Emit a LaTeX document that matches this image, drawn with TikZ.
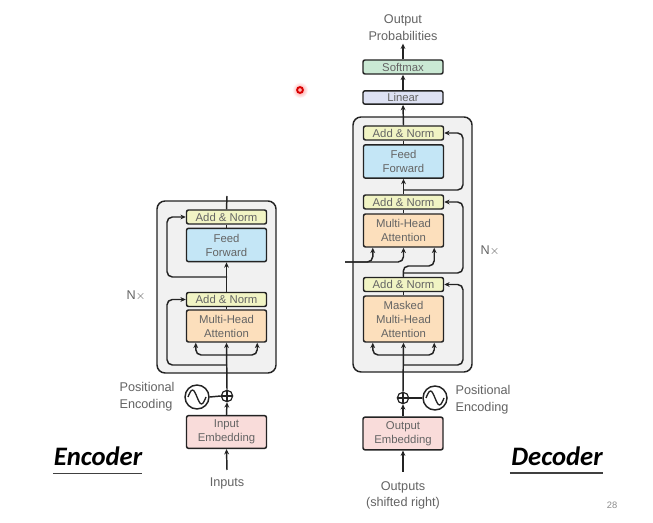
\documentclass[tikz,border=0pt]{standalone}
\usepackage{fontspec}
\setmainfont{Liberation Sans}
\newfontfamily\calib{Carlito}
\usetikzlibrary{arrows.meta}

\definecolor{anfill}{RGB}{241,244,196}
\definecolor{fffill}{RGB}{196,230,246}
\definecolor{mhfill}{RGB}{252,223,188}
\definecolor{embfill}{RGB}{249,220,218}
\definecolor{smfill}{RGB}{202,233,212}
\definecolor{linfill}{RGB}{221,225,243}
\definecolor{stackfill}{RGB}{241,241,241}
\definecolor{inkgray}{RGB}{100,100,100}
\definecolor{wirecol}{RGB}{35,35,35}

\begin{document}
\begin{tikzpicture}[x=0.75pt,y=-0.75pt,
  blk/.style={draw=wirecol, line width=1.1pt, rounded corners=1.5pt, minimum width=60pt,
    inner sep=0pt, align=center, text=inkgray, font=\fontsize{8.5}{10.5}\selectfont},
  addnorm/.style={blk, fill=anfill, minimum height=10.5pt},
  ffbox/.style={blk, fill=fffill, minimum height=25pt},
  attbox/.style={blk, fill=mhfill},
  embbox/.style={blk, fill=embfill, minimum height=24.5pt},
  stack/.style={draw=wirecol, line width=1.1pt, rounded corners=6pt, fill=stackfill, inner sep=0pt},
  conn/.style={draw=wirecol, line width=1.1pt, rounded corners=4pt},
  arr/.style={conn, -{Stealth[length=4pt,width=3.6pt]}},
  lbl/.style={text=inkgray, font=\fontsize{9.5}{12.5}\selectfont, align=center, inner sep=1pt},
  sinecirc/.style={circle, draw=wirecol, line width=1.1pt, minimum size=18pt, inner sep=0pt},
  plusnode/.style={circle, draw=wirecol, line width=0.9pt, minimum size=8.5pt, inner sep=0pt},
  bigtitle/.style={font=\calib\bfseries\itshape\fontsize{20}{24}\selectfont, inner sep=0pt},
]
\useasboundingbox[fill=white] (0,0) rectangle (653,523);

% ---------------- encoder stack ----------------
\node[stack, minimum width=89.25pt, minimum height=129pt] (eBox) at (216.5,287) {};
\node[addnorm] (eAN2) at (226.5,217) {Add \& Norm};
\node[ffbox] (eFF) at (226.5,245) {Feed\\Forward};
\node[addnorm] (eAN1) at (226.5,299.5) {Add \& Norm};
\node[attbox, minimum height=24pt] (eMHA) at (226.5,326) {Multi-Head\\Attention};
\node[lbl] at (136,296) {N$\times$};

\node[plusnode] (ePlus) at (227,396) {};
\draw[line width=0.9pt, draw=wirecol] (ePlus.north) -- (ePlus.south) (ePlus.west) -- (ePlus.east);
\node[sinecirc] (eSin) at (197,397) {};
\draw[line width=1pt, draw=wirecol] ([xshift=-6.75pt]eSin.center) sin ++(4.5,-7) cos ++(4.5,7) sin ++(4.5,7) cos ++(4.5,-7);
\node[lbl, align=left, anchor=west] (ePos) at (118,397) {Positional\\Encoding};
\node[embbox] (eEmb) at (226.5,432) {Input\\Embedding};
\node[lbl, anchor=north, inner sep=0pt] (eIn) at (227,478) {Inputs};

\coordinate (eTop) at (227,196);
\coordinate (eLx) at (167,0);
\coordinate (eR1) at (227,365);
\coordinate (eR2) at (227,277);
\coordinate (eF) at (227,355);

\draw[arr] ([yshift=6pt]eIn.north) -- (eEmb.south);
\draw[arr] (eEmb.north) -- (ePlus.south);
\draw[conn] (eSin.east) -- (ePlus.west);
\draw[arr] (ePlus.north) -- (eMHA.south);
\draw[arr] (eF) -| ([xshift=7.5pt]eMHA.south west);
\draw[arr] (eF) -| ([xshift=-7.5pt]eMHA.south east);
\draw[conn] (eMHA.north) -- (eAN1.south);
\draw[arr] (eAN1.north) -- (eFF.south);
\draw[conn] (eFF.north) -- (eAN2.south);
\draw[conn] (eAN2.north) -- (eTop);
\draw[arr] (eR1) -- (eR1 -| eLx) -- (eLx |- eAN1) -- (eAN1.west);
\draw[arr] (eR2) -- (eR2 -| eLx) -- (eLx |- eAN2) -- (eAN2.west);

% ---------------- decoder stack ----------------
\node[stack, minimum width=89.25pt, minimum height=191.25pt] (dBox) at (412.5,244.5) {};
\node[addnorm] (dAN3) at (403.5,133) {Add \& Norm};
\node[ffbox] (dFF) at (403.5,161.5) {Feed\\Forward};
\node[addnorm] (dAN2) at (403.5,202) {Add \& Norm};
\node[attbox, minimum height=24.75pt] (dMHA) at (403.5,230.5) {Multi-Head\\Attention};
\node[addnorm] (dAN1) at (403.5,284.5) {Add \& Norm};
\node[attbox, minimum height=34.5pt] (dMM) at (403.5,319) {Masked\\Multi-Head\\Attention};
\node[lbl] at (490,251) {N$\times$};

\node[blk, fill=linfill, minimum height=10pt] (dLin) at (403,97.5) {Linear};
\node[blk, fill=smfill, minimum height=10.5pt] (dSm) at (403,67) {Softmax};
\node[lbl, anchor=south, inner sep=0pt] (dProb) at (403,41) {Output\\Probabilities};

\node[plusnode] (dPlus) at (403,398) {};
\draw[line width=0.9pt, draw=wirecol] (dPlus.north) -- (dPlus.south) (dPlus.west) -- (dPlus.east);
\node[sinecirc] (dSin) at (435,398) {};
\draw[line width=1pt, draw=wirecol] ([xshift=-6.75pt]dSin.center) sin ++(4.5,-7) cos ++(4.5,7) sin ++(4.5,7) cos ++(4.5,-7);
\node[lbl, align=left, anchor=west] (dPos) at (454,400) {Positional\\Encoding};
\node[embbox] (dEmb) at (403,433.5) {Output\\Embedding};
\node[lbl, anchor=north, inner sep=0pt] (dOut) at (403,481) {Outputs\\(shifted right)};

\coordinate (dEnc) at (345,262);
\coordinate (dQ) at (403,266);
\coordinate (dRx) at (463,0);
\coordinate (dR1) at (403,365);
\coordinate (dR2) at (403,273);
\coordinate (dR3) at (403,190);
\coordinate (dF) at (403,355);

\draw[arr] ([yshift=7pt]dOut.north) -- (dEmb.south);
\draw[arr] (dEmb.north) -- (dPlus.south);
\draw[conn] (dSin.west) -- (dPlus.east);
\draw[arr] (dPlus.north) -- (dMM.south);
\draw[arr] (dF) -| ([xshift=7.5pt]dMM.south west);
\draw[arr] (dF) -| ([xshift=-7.5pt]dMM.south east);
\draw[conn] (dMM.north) -- (dAN1.south);
\draw[arr] (dAN1.north) -- (dQ) -| ([xshift=-7.5pt]dMHA.south east);
\draw[arr] (dEnc) -| ([xshift=7.5pt]dMHA.south west);
\draw[arr] (dEnc) -| (dMHA.south);
\draw[conn] (dMHA.north) -- (dAN2.south);
\draw[arr] (dAN2.north) -- (dFF.south);
\draw[conn] (dFF.north) -- (dAN3.south);
\draw[arr] (dAN3.north) -- (dLin.south);
\draw[arr] (dLin.north) -- (dSm.south);
\draw[arr] (dSm.north) -- ([yshift=-2pt]dProb.south);
\draw[arr] (dR1) -- (dR1 -| dRx) -- (dRx |- dAN1) -- (dAN1.east);
\draw[arr] (dR2) -- (dR2 -| dRx) -- (dRx |- dAN2) -- (dAN2.east);
\draw[arr] (dR3) -- (dR3 -| dRx) -- (dRx |- dAN3) -- (dAN3.east);

% ---------------- titles and slide furniture ----------------
\node[bigtitle, anchor=base] (encT) at (98,466) {Encoder};
\draw[line width=0.8pt, draw=black!75] ([yshift=-5.5pt,xshift=-0.5pt]encT.base west) -- ([yshift=-5.5pt]encT.base east);
\node[bigtitle, anchor=base] (decT) at (557,465) {Decoder};
\draw[line width=0.8pt, draw=black!75] ([yshift=-6pt,xshift=-1pt]decT.base west) -- ([yshift=-6pt]decT.base east);
\node[text=black!45, font=\fontsize{7}{8}\selectfont, inner sep=0pt] (pgnum) at (612,505) {28};

% laser pointer dot
\shade[inner color=red!45, outer color=white] (300,90) circle[radius=6pt];
\draw[draw=red!85!black, line width=1.4pt, fill=red!30] (300,90) circle[radius=2.2pt];
\end{tikzpicture}
\end{document}
